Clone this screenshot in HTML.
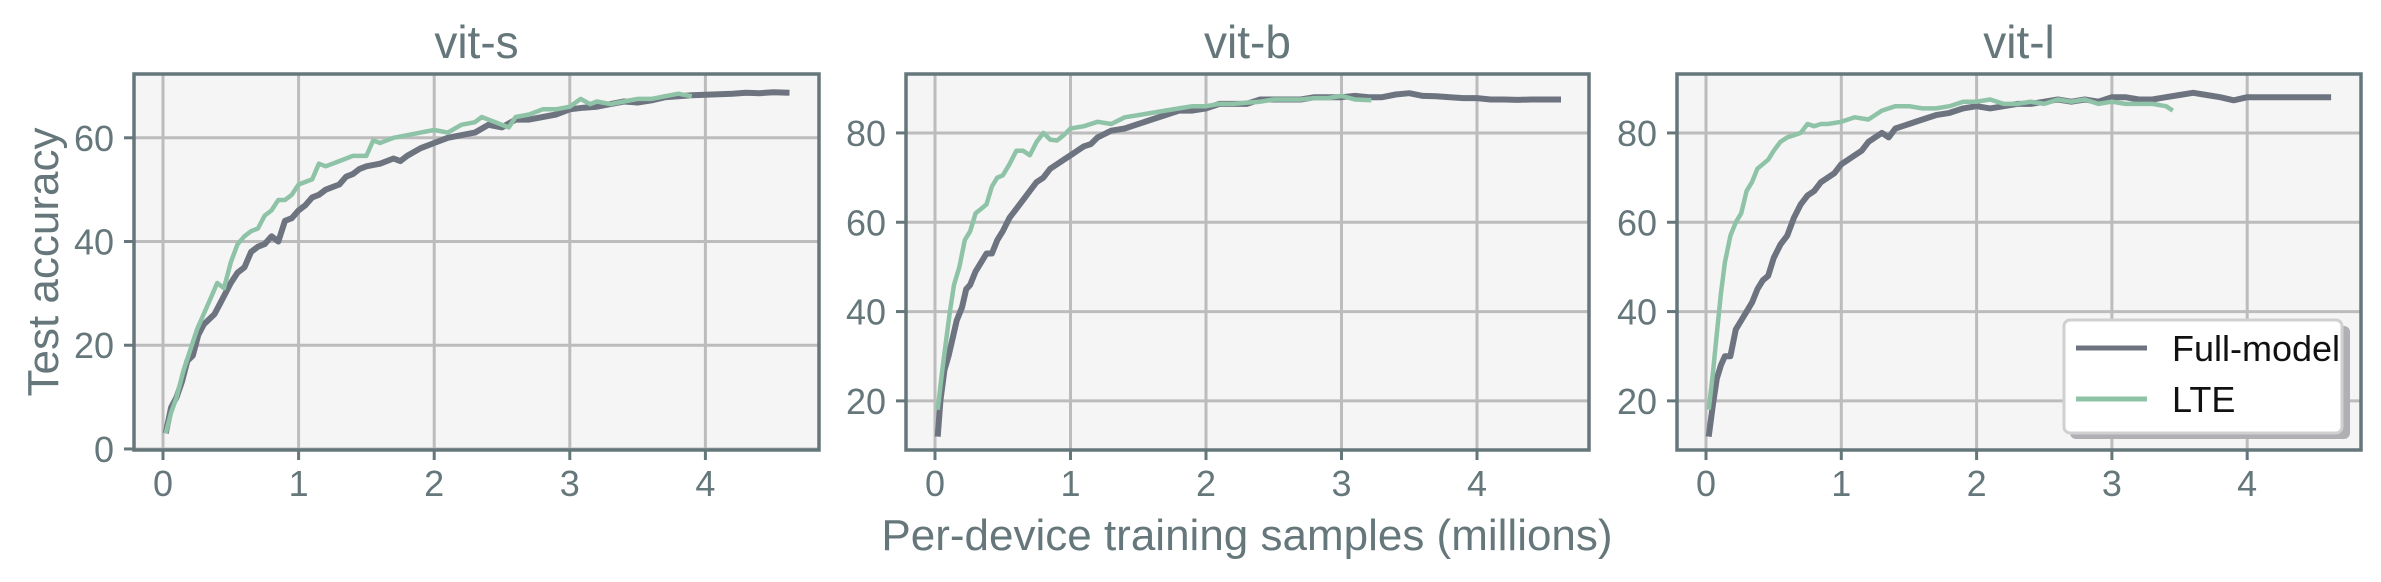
<!DOCTYPE html>
<html><head><meta charset="utf-8"><style>
html,body{margin:0;padding:0;background:#fff;}
svg{display:block;font-family:"Liberation Sans",sans-serif;}
</style></head><body>
<svg id="chart" width="2381" height="582" viewBox="0 0 2381 582" xmlns="http://www.w3.org/2000/svg"></svg>
<script>
// ---- data ----
const panelTitles = ["vit-s", "vit-b", "vit-l"];
const xTicks = [0, 1, 2, 3, 4];
const yTicksS = [0, 20, 40, 60];
const yTicksBL = [20, 40, 60, 80];

const sFullX = [0.02,0.06,0.1,0.14,0.18,0.22,0.26,0.3,0.34,0.38,0.42,0.46,0.5,0.55,0.6,0.65,0.7,0.75,0.8,0.85,0.9,0.95,1.0,1.05,1.1,1.15,1.2,1.25,1.3,1.35,1.4,1.45,1.5,1.6,1.7,1.75,1.8,1.9,2.0,2.1,2.2,2.3,2.4,2.5,2.6,2.7,2.8,2.9,3.0,3.1,3.2,3.3,3.4,3.5,3.6,3.7,3.8,3.9,4.0,4.1,4.2,4.3,4.4,4.5,4.62];
const sFullY = [3,8,10,13,17,18,22,24,25,26,28,30,32,34,35,38,39,39.5,41,40,44,44.5,46,47,48.5,49,50,50.5,51,52.5,53,54,54.5,55,56,55.5,56.5,58,59,60,60.5,61,62.5,62,63.5,63.5,64,64.5,65.5,65.8,66,66.5,67,66.8,67.2,67.8,68,68.2,68.3,68.4,68.5,68.7,68.6,68.8,68.7];
const sLteX = [0.02,0.06,0.1,0.15,0.2,0.25,0.3,0.35,0.4,0.45,0.5,0.55,0.6,0.65,0.7,0.75,0.8,0.85,0.9,0.95,1.0,1.05,1.1,1.15,1.2,1.3,1.4,1.5,1.55,1.6,1.7,1.8,1.9,2.0,2.1,2.2,2.3,2.35,2.45,2.55,2.6,2.7,2.8,2.9,3.0,3.08,3.15,3.2,3.3,3.4,3.5,3.6,3.7,3.8,3.9];
const sLteY = [3,7,10,15,19,23,26,29,32,31,36,39.5,41,42,42.5,45,46,48,48,49,51,51.5,52,55,54.5,55.5,56.5,56.5,59.5,59,60,60.5,61,61.5,61,62.5,63,64,63,62,64,64.5,65.5,65.5,66,67.5,66.5,67,66.5,67,67.5,67.5,68,68.5,68];

const bFullX = [0.02,0.04,0.07,0.1,0.13,0.16,0.2,0.23,0.26,0.3,0.34,0.38,0.42,0.46,0.5,0.55,0.6,0.65,0.7,0.75,0.8,0.85,0.9,0.95,1.0,1.05,1.1,1.15,1.2,1.3,1.4,1.5,1.6,1.7,1.8,1.9,2.0,2.1,2.2,2.3,2.4,2.5,2.6,2.7,2.8,2.9,3.0,3.1,3.2,3.3,3.4,3.5,3.6,3.7,3.8,3.9,4.0,4.1,4.2,4.3,4.4,4.5,4.62];
const bFullY = [12,20,27,30,34,38,41,45,46,49,51,53,53,56,58,61,63,65,67,69,70,72,73,74,75,76,77,77.5,79,80.5,81,82,83,84,85,85,85.5,86.5,86.5,86.5,87.5,87.5,87.5,87.5,88,88,88,88.3,88,88,88.6,88.9,88.3,88.2,88,87.8,87.8,87.5,87.5,87.4,87.5,87.5,87.5];
const bLteX = [0.02,0.05,0.08,0.11,0.14,0.18,0.22,0.26,0.3,0.34,0.38,0.42,0.46,0.5,0.55,0.6,0.65,0.7,0.75,0.8,0.85,0.9,0.95,1.0,1.1,1.2,1.3,1.4,1.5,1.6,1.7,1.8,1.9,2.0,2.1,2.2,2.3,2.4,2.5,2.6,2.7,2.8,2.9,3.0,3.1,3.22];
const bLteY = [18,26,33,40,46,50,56,58,62,63,64,68,70,70.5,73,76,76,75,78,80,78.5,78.3,79.5,81,81.5,82.5,82,83.5,84,84.5,85,85.5,86,86,86.5,86.5,86.8,87,87.5,87.5,87.5,87.8,87.8,88.3,87.5,87.3];

const lFullX = [0.02,0.05,0.08,0.11,0.14,0.18,0.22,0.26,0.3,0.34,0.38,0.42,0.46,0.5,0.55,0.6,0.65,0.7,0.75,0.8,0.85,0.9,0.95,1.0,1.05,1.1,1.15,1.2,1.25,1.3,1.35,1.4,1.5,1.6,1.7,1.8,1.9,2.0,2.1,2.2,2.3,2.4,2.5,2.6,2.7,2.8,2.9,3.0,3.1,3.2,3.3,3.4,3.5,3.6,3.7,3.8,3.9,4.0,4.1,4.2,4.3,4.4,4.5,4.62];
const lFullY = [12,19,25,28,30,30,36,38,40,42,45,47,48,52,55,57,61,64,66,67,69,70,71,73,74,75,76,78,79,80,79,81,82,83,84,84.5,85.5,86,85.5,86,86.5,86.5,87,87.5,87,87.5,87,88,88,87.5,87.5,88,88.5,89,88.5,88,87.3,88,88,88,88,88,88,88];
const lLteX = [0.02,0.05,0.08,0.11,0.14,0.18,0.22,0.26,0.3,0.34,0.38,0.42,0.46,0.5,0.55,0.6,0.65,0.7,0.75,0.8,0.85,0.9,1.0,1.1,1.2,1.3,1.4,1.5,1.6,1.7,1.8,1.9,2.0,2.1,2.2,2.3,2.4,2.5,2.6,2.7,2.8,2.9,3.0,3.1,3.2,3.3,3.4,3.45];
const lLteY = [18,26,35,44,51,57,60,62,67,69,72,73,74,76,78,79,79.5,80,82,81.5,82,82,82.5,83.5,83,85,86,86,85.5,85.5,86,87,87,87.5,86.5,86.5,87,86.5,87.5,87,87.5,86.5,87,86.5,86.5,86.5,86,85];

// ---- layout ----
const NS = "http://www.w3.org/2000/svg";
const svg = document.getElementById('chart');
const TOP = 74, BOT = 450;
const panels = [
  {L:134, R:819, x0:163, xUnit:135.6, yMin:-0.2, yMax:72.3, yt:yTicksS, full:[sFullX,sFullY], lte:[sLteX,sLteY]},
  {L:906, R:1589, x0:935, xUnit:135.5, yMin:9.0, yMax:93.2, yt:yTicksBL, full:[bFullX,bFullY], lte:[bLteX,bLteY]},
  {L:1677, R:2361, x0:1706, xUnit:135.3, yMin:9.0, yMax:93.2, yt:yTicksBL, full:[lFullX,lFullY], lte:[lLteX,lLteY]}
];
function mk(tag, attrs, parent){const e=document.createElementNS(NS,tag);for(const k in attrs)e.setAttribute(k,attrs[k]);(parent||svg).appendChild(e);return e;}
const TC = "#65777b";

panels.forEach((p, i) => {
  const sx = v => p.x0 + v * p.xUnit;
  const sy = v => BOT - (v - p.yMin) / (p.yMax - p.yMin) * (BOT - TOP);
  const g = mk('g', {});
  
  
  const bg = mk('rect', {x:p.L, y:TOP, width:p.R-p.L, height:BOT-TOP, fill:'#f5f5f5'}, g);
  
  
  xTicks.forEach(t => {
    const x = sx(t);
    const gl = mk('line', {x1:x, x2:x, y1:TOP, y2:BOT, stroke:'#bcbcbc', 'stroke-width':3}, g);
    
    
    mk('line', {x1:x, x2:x, y1:BOT, y2:BOT+10, stroke:TC, 'stroke-width':3}, g);
    const tx = mk('text', {x:x, y:496, 'text-anchor':'middle', 'font-size':36, fill:TC}, g);
    tx.textContent = t;
    
    
  });
  p.yt.forEach(t => {
    const y = sy(t);
    const gl = mk('line', {x1:p.L, x2:p.R, y1:y, y2:y, stroke:'#bcbcbc', 'stroke-width':3}, g);
    
    
    mk('line', {x1:p.L-10, x2:p.L, y1:y, y2:y, stroke:TC, 'stroke-width':3}, g);
    const ty = mk('text', {x:p.L-20, y:y+13, 'text-anchor':'end', 'font-size':36, fill:TC}, g);
    ty.textContent = t;
    
    
  });
  const pts = (xs, ys) => xs.map((x, k) => sx(x).toFixed(1) + ',' + sy(ys[k]).toFixed(1)).join(' ');
  const lf = mk('polyline', {points:pts(p.full[0], p.full[1]), fill:'none', stroke:'#6d7480', 'stroke-width':6, 'stroke-linejoin':'round'}, g);
  
  
  const ll = mk('polyline', {points:pts(p.lte[0], p.lte[1]), fill:'none', stroke:'#8fc3a7', 'stroke-width':4.5, 'stroke-linejoin':'round'}, g);
  
  
  const fr = mk('rect', {x:p.L, y:TOP, width:p.R-p.L, height:BOT-TOP, fill:'none', stroke:TC, 'stroke-width':3.5}, g);
  
  
  const tt = mk('text', {x:(p.L+p.R)/2, y:58, 'text-anchor':'middle', 'font-size':46, fill:TC}, g);
  tt.textContent = panelTitles[i];
  
  
});

const yl = mk('text', {x:0, y:0, 'text-anchor':'middle', 'font-size':44, fill:TC, transform:'translate(58,262) rotate(-90)'});
yl.textContent = 'Test accuracy';


const xl = mk('text', {x:1247, y:550, 'text-anchor':'middle', 'font-size':44, fill:TC});
xl.textContent = 'Per-device training samples (millions)';



// legend
const lg = mk('g', {});


mk('rect', {x:2070, y:326, width:280, height:113, rx:6, fill:'#b0b0b4'}, lg);
mk('rect', {x:2064, y:320, width:278, height:113, rx:6, fill:'#ffffff', stroke:'#d0d0d0', 'stroke-width':3}, lg);
const e1 = mk('line', {x1:2076, x2:2147, y1:348, y2:348, stroke:'#6d7480', 'stroke-width':5}, lg);


const t1 = mk('text', {x:2172, y:361, 'font-size':36, fill:'#111'}, lg);
t1.textContent = 'Full-model';


const e2 = mk('line', {x1:2076, x2:2147, y1:399, y2:399, stroke:'#8fc3a7', 'stroke-width':5}, lg);


const t2 = mk('text', {x:2172, y:412, 'font-size':36, fill:'#111'}, lg);
t2.textContent = 'LTE';


</script>
</body></html>
